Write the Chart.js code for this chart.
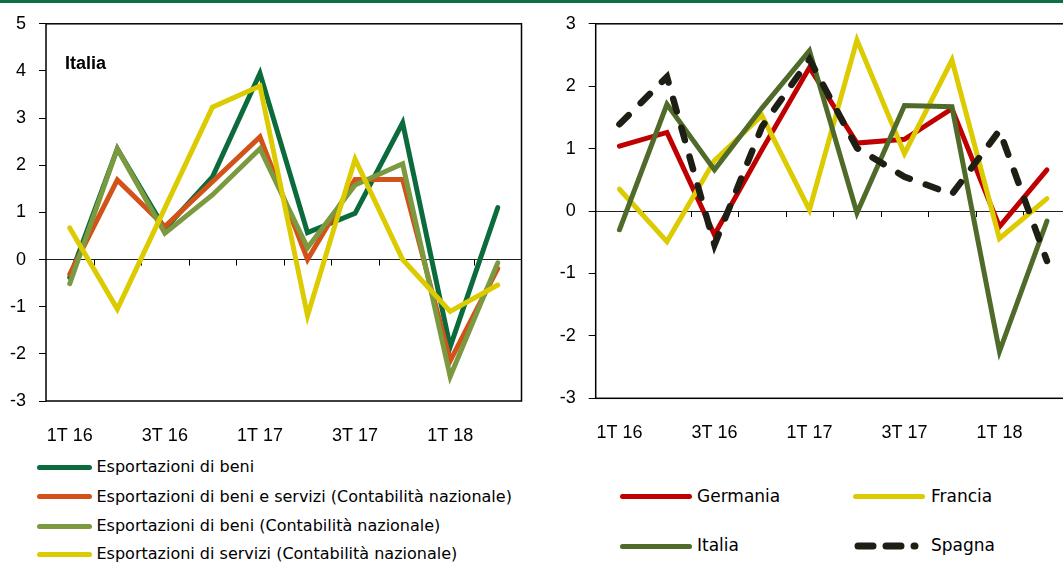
<!DOCTYPE html>
<html>
<head>
<meta charset="utf-8">
<script src="https://cdn.jsdelivr.net/npm/chart.js@4.4.1/dist/chart.umd.min.js"></script>
<style>
  html, body { margin:0; padding:0; width:1063px; height:563px; overflow:hidden; background:#fff; }
  #topbar { position:absolute; left:0; top:0; width:1063px; height:3px; background:#0e6f45; }
  #c1 { position:absolute; left:0; top:0; }
  #c2 { position:absolute; left:530px; top:0; }
  .lg { position:absolute; font-family:"DejaVu Sans", sans-serif; color:#000; white-space:nowrap; }
  .sw { position:absolute; height:5px; border-radius:2.5px; }
  #title { position:absolute; left:65px; top:53px; font-family:"Liberation Sans", Arial, sans-serif; font-weight:bold; font-size:18px; }
</style>
</head>
<body>
<div id="topbar"></div>
<canvas id="c1" width="530" height="450" style="width:530px;height:450px"></canvas>
<canvas id="c2" width="545" height="450" style="width:545px;height:450px"></canvas>
<div id="title">Italia</div>
<div id="legend"></div>
<script>
// ---------- data ----------
const categories = ['1T 16','2T 16','3T 16','4T 16','1T 17','2T 17','3T 17','4T 17','1T 18','2T 18'];

// Left panel (Italia)
const leftLabels = [
  'Esportazioni di beni',
  'Esportazioni di beni e servizi (Contabilità nazionale)',
  'Esportazioni di beni (Contabilità nazionale)',
  'Esportazioni di servizi (Contabilità nazionale)'
];
const esportBeni       = [-0.38, 2.35, 0.65, 1.75, 3.95, 0.57, 0.98, 2.9, -1.85, 1.1];
const esportBeniServCN = [-0.31, 1.69, 0.70, 1.65, 2.60, 0.00, 1.70, 1.70, -2.15, -0.19];
const esportBeniCN     = [-0.51, 2.35, 0.56, 1.37, 2.35, 0.25, 1.58, 2.03, -2.48, -0.07];
const esportServCN     = [0.67, -1.05, 1.09, 3.23, 3.68, -1.19, 2.13, 0.00, -1.10, -0.54];

// Right panel (countries)
const rightLabels = ['Germania','Francia','Italia','Spagna'];
const germania = [1.04, 1.26, -0.38, 0.98, 2.30, 1.09, 1.15, 1.64, -0.25, 0.66];
const francia  = [0.35, -0.49, 0.81, 1.53, 0.02, 2.74, 0.92, 2.42, -0.44, 0.20];
const italia   = [-0.30, 1.71, 0.66, 1.65, 2.57, -0.03, 1.69, 1.67, -2.25, -0.16];
const spagna   = [1.39, 2.15, -0.54, 1.35, 2.43, 1.01, 0.55, 0.27, 1.29, -0.80];

const leftTicks  = { min:-3, max:5, step:1 };
const rightTicks = { min:-3, max:3, step:1 };

// ---------- styles ----------
const leftColors  = ['#0c6b3c', '#d3521a', '#7b9a40', '#dccb00'];
const rightColors = ['#c00000', '#dccb00', '#4f6a29', '#1f1e14'];

const framePlugin = {
  id: 'frame',
  beforeDatasetsDraw(chart) {
    const { ctx, chartArea: a, scales: { x, y } } = chart;
    ctx.save();
    ctx.strokeStyle = '#000';
    ctx.lineWidth = 1.5;
    ctx.strokeRect(a.left, a.top, a.right - a.left, a.bottom - a.top);
    const y0 = y.getPixelForValue(0);
    ctx.lineWidth = 1;
    ctx.beginPath();
    for (let i = 0; i < categories.length - 1; i++) {
      const xb = Math.round((x.getPixelForValue(i) + x.getPixelForValue(i + 1)) / 2) + 0.5;
      ctx.moveTo(xb, y0);
      ctx.lineTo(xb, y0 + 6);
    }
    ctx.stroke();
    ctx.restore();
  }
};

function makeOptions(t, yWidth, xHeight, padRight, padTop) {
  return {
    responsive: false,
    animation: false,
    devicePixelRatio: 1,
    layout: { padding: { top: padTop, right: padRight, left: 0, bottom: 0 } },
    plugins: { legend: { display: false }, tooltip: { enabled: false } },
    elements: { point: { radius: 0 }, line: { tension: 0, borderCapStyle: 'round', borderJoinStyle: 'miter' } },
    scales: {
      x: {
        type: 'category',
        offset: true,
        grid: { display: false },
        border: { display: false },
        ticks: {
          autoSkip: false, maxRotation: 0, minRotation: 0, padding: 16, color: '#000',
          font: { family: '"Liberation Sans", Arial, sans-serif', size: 18 },
          callback: (v, i) => (i % 2 === 0 ? categories[i] : '')
        },
        afterFit: s => { s.height = xHeight; }
      },
      y: {
        min: t.min, max: t.max,
        border: { display: false },
        grid: {
          color: c => (c.tick && c.tick.value === 0 ? '#222' : 'rgba(0,0,0,0)'),
          lineWidth: 1,
          tickColor: '#000',
          tickLength: 7,
          drawTicks: true
        },
        ticks: {
          stepSize: t.step, padding: 13, color: '#000',
          font: { family: '"Liberation Sans", Arial, sans-serif', size: 18 }
        },
        afterFit: s => { s.width = yWidth; }
      }
    }
  };
}

// Left chart
new Chart(document.getElementById('c1'), {
  type: 'line',
  data: {
    labels: categories,
    datasets: [
      { label: leftLabels[0], data: esportBeni,       borderColor: leftColors[0], borderWidth: 5, order: 4 },
      { label: leftLabels[1], data: esportBeniServCN, borderColor: leftColors[1], borderWidth: 5, order: 3 },
      { label: leftLabels[2], data: esportBeniCN,     borderColor: leftColors[2], borderWidth: 5, order: 2 },
      { label: leftLabels[3], data: esportServCN,     borderColor: leftColors[3], borderWidth: 5, order: 1 }
    ]
  },
  options: makeOptions(leftTicks, 46, 49, 8.5, 21),
  plugins: [framePlugin]
});

// Right chart
new Chart(document.getElementById('c2'), {
  type: 'line',
  data: {
    labels: categories,
    datasets: [
      { label: rightLabels[0], data: germania, borderColor: rightColors[0], borderWidth: 5, order: 4 },
      { label: rightLabels[1], data: francia,  borderColor: rightColors[1], borderWidth: 5, order: 3 },
      { label: rightLabels[2], data: italia,   borderColor: rightColors[2], borderWidth: 5, order: 2 },
      { label: rightLabels[3], data: spagna,   borderColor: rightColors[3], borderWidth: 6.5, borderDash: [13, 17], order: 1 }
    ]
  },
  options: makeOptions(rightTicks, 65.7, 51.7, 4.3, 20.7),
  plugins: [framePlugin]
});

// ---------- HTML legends ----------
const legend = document.getElementById('legend');
function addItem(text, color, sx, sw, tx, cy, size, dashed) {
  if (dashed) {
    const ns = 'http://www.w3.org/2000/svg';
    const svg = document.createElementNS(ns, 'svg');
    svg.setAttribute('width', sw + 8); svg.setAttribute('height', 10);
    svg.style.position = 'absolute';
    svg.style.left = (sx - 3) + 'px'; svg.style.top = (cy - 5) + 'px';
    const ln = document.createElementNS(ns, 'line');
    ln.setAttribute('x1', 6); ln.setAttribute('x2', sw + 1);
    ln.setAttribute('y1', 5); ln.setAttribute('y2', 5);
    ln.setAttribute('stroke', color); ln.setAttribute('stroke-width', 7);
    ln.setAttribute('stroke-linecap', 'round');
    ln.setAttribute('stroke-dasharray', '15 13');
    svg.appendChild(ln);
    legend.appendChild(svg);
  } else {
    const s = document.createElement('div');
    s.className = 'sw';
    s.style.left = sx + 'px'; s.style.width = sw + 'px';
    s.style.top = (cy - 2.5) + 'px'; s.style.background = color;
    legend.appendChild(s);
  }
  const t = document.createElement('div');
  t.className = 'lg';
  t.textContent = text;
  t.style.fontSize = size + 'px';
  t.style.left = tx + 'px';
  t.style.top = (cy - size * 0.62) + 'px';
  legend.appendChild(t);
}
const leftRows = [467, 496.5, 526, 554];
leftLabels.forEach((l, i) => addItem(l, leftColors[i], 36.5, 55.5, 96.5, leftRows[i], 16, false));
addItem(rightLabels[0], rightColors[0], 620, 72, 697, 496.5, 17, false);
addItem(rightLabels[1], rightColors[1], 853, 72, 931, 496.5, 17, false);
addItem(rightLabels[2], rightColors[2], 620, 72, 697, 546, 17, false);
addItem(rightLabels[3], rightColors[3], 855, 62, 931, 546, 17, true);
</script>
</body>
</html>
